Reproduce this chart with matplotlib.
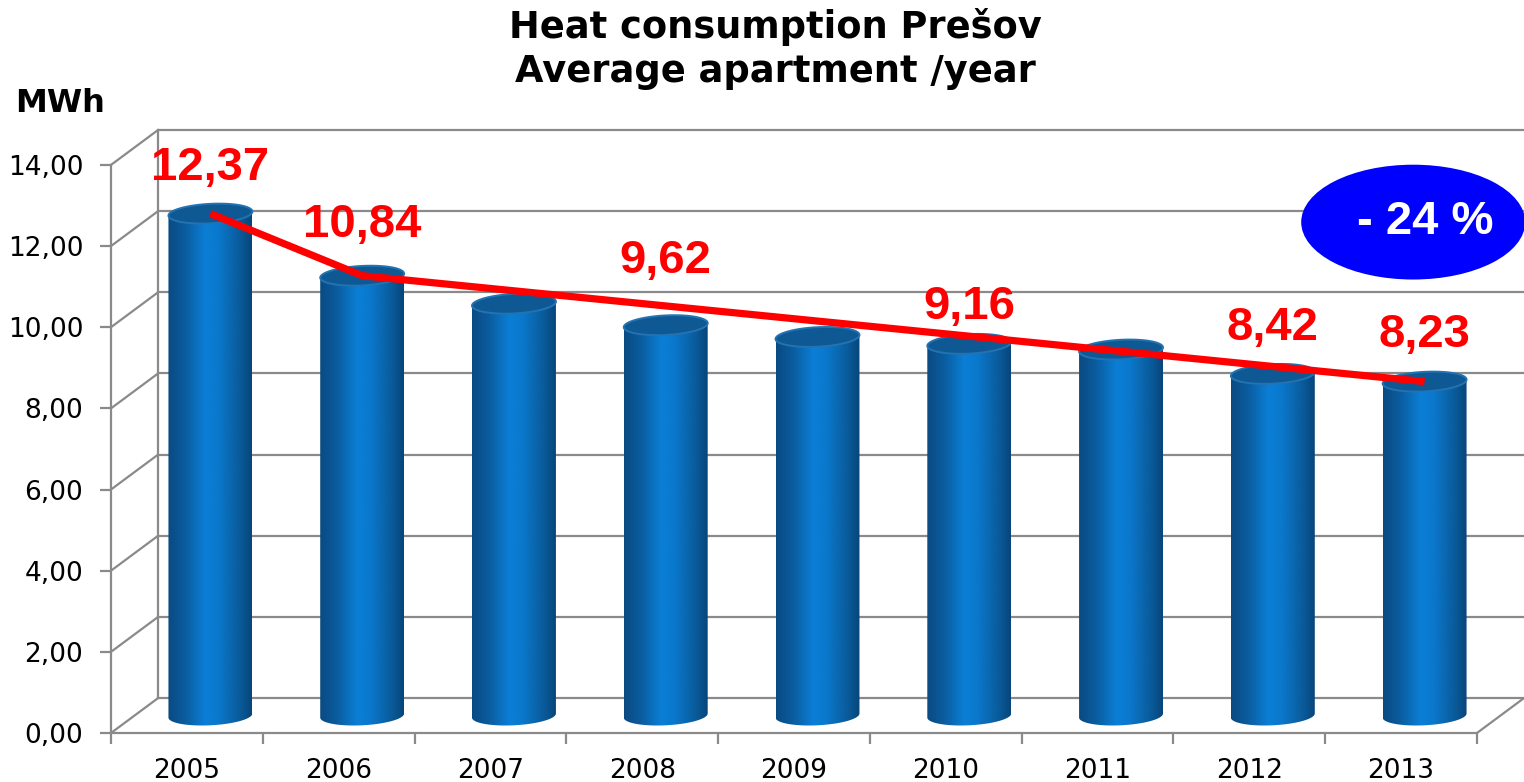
import numpy as np
import matplotlib
matplotlib.use("Agg")
import matplotlib.pyplot as plt
from matplotlib.patches import Ellipse, PathPatch, Polygon
from matplotlib.path import Path
from matplotlib.colors import LinearSegmentedColormap

# datos
years = ['2005', '2006', '2007', '2008', '2009', '2010', '2011', '2012', '2013']
values = [12.37, 10.84, 10.15, 9.62, 9.33, 9.16, 9.02, 8.42, 8.23]
labeled = [0, 1, 3, 5, 7, 8]           # barras con etiqueta roja
label_lift = [1.55, 1.68, 2.0, 1.35, 1.55, 1.57]
trend_idx = [0, 1, 8]                  # linea roja
yticks = [0, 2, 4, 6, 8, 10, 12, 14]
badge_text = '- 24 %'

# efecto 3D (profundidad en unidades de datos)
dx, dy = 0.31, 0.86
bar_w = 0.553
ell_h = 0.48
shear = 0.05
grid_col = '#8a8a8a'

fig = plt.figure(figsize=(15.24, 7.82), dpi=100)
ax = fig.add_axes([111 / 1524, 49 / 782, 1413 / 1524, 603 / 782])
ax.set_xlim(-0.5, 8.5 + dx)
ax.set_ylim(0, 14 + dy)

# ejes
for s in ['top', 'right']:
    ax.spines[s].set_visible(False)
ax.spines['left'].set_bounds(0, 14)
ax.spines['bottom'].set_bounds(-0.5, 8.5)
for s in ['left', 'bottom']:
    ax.spines[s].set_color(grid_col)
    ax.spines[s].set_linewidth(1.6)

ax.set_yticks(yticks)
ax.set_yticklabels([f'{v:.2f}'.replace('.', ',') for v in yticks], fontsize=19)
ax.set_xticks(np.arange(-0.5, 9, 1))
ax.set_xticklabels([])
ax.set_xticks(np.arange(len(years)), minor=True)
ax.set_xticklabels(years, minor=True, fontsize=19)
ax.tick_params(axis='y', length=8, width=1.6, color=grid_col, pad=12)
ax.tick_params(axis='x', which='major', length=8, width=1.6, color=grid_col)
ax.tick_params(axis='x', which='minor', length=0, pad=18)

# rejilla en pared trasera y lateral
for v in yticks:
    ax.plot([-0.5 + dx, 8.5 + dx], [v + dy, v + dy], color=grid_col, lw=1.6, zorder=1, clip_on=False)
    ax.plot([-0.5, -0.5 + dx], [v, v + dy], color=grid_col, lw=1.6, zorder=1, clip_on=False)
ax.plot([-0.5 + dx, -0.5 + dx], [dy, 14 + dy], color=grid_col, lw=1.6, zorder=1)
ax.plot([8.5, 8.5 + dx], [0, dy], color=grid_col, lw=1.6, zorder=1, clip_on=False)

# cilindros
cmap = LinearSegmentedColormap.from_list('cyl', [
    (0.0, '#0a4a82'), (0.2, '#0b5c9e'), (0.45, '#0a7fd6'),
    (0.6, '#0a78cc'), (0.85, '#0a5c9c'), (1.0, '#07457a')])
grad = np.linspace(0, 1, 256).reshape(1, -1)
base = dy / 2
w = bar_w / 2
t_low = np.linspace(np.pi, 2 * np.pi, 60)
t_all = np.linspace(0, 2 * np.pi, 120)
for i, v in enumerate(values):
    cx = i + dx / 2
    top = v + dy / 2
    arc = np.column_stack([cx + w * np.cos(t_low),
                           base + ell_h / 2 * np.sin(t_low) + shear * np.cos(t_low)])
    verts = np.vstack([[cx - w, top - shear], arc, [cx + w, top + shear], [cx - w, top - shear]])
    clip = PathPatch(Path(verts), transform=ax.transData)
    im = ax.imshow(grad, cmap=cmap, aspect='auto', interpolation='bicubic',
                   extent=(cx - w, cx + w, base - ell_h / 2 - shear, top + shear), zorder=3)
    im.set_clip_path(clip)
    cap = np.column_stack([cx + w * np.cos(t_all),
                           top + ell_h / 2 * np.sin(t_all) + shear * np.cos(t_all)])
    ax.add_patch(Polygon(cap, closed=True, facecolor='#0e5894',
                         edgecolor='#2372b2', lw=1.4, zorder=4))

# linea roja
tx = [i + dx / 2 for i in trend_idx]
ty = [values[i] + dy / 2 for i in trend_idx]
ax.plot(tx, ty, color='#ff0000', lw=5.2, zorder=6, solid_capstyle='butt')

# etiquetas
for i, lift in zip(labeled, label_lift):
    ax.text(i + dx / 2, values[i] + lift, f'{values[i]:.2f}'.replace('.', ','),
            ha='center', va='center', color='#ff0000', fontsize=34,
            fontweight='bold', family='Liberation Sans', zorder=7)

# elipse -24 %
ax.add_patch(Ellipse((8.08, 12.59), 1.476, 2.83, facecolor='#0000ff',
                     edgecolor='none', zorder=6, clip_on=False))
ax.text(8.08 + 0.08, 12.59, badge_text, ha='center', va='center', color='white',
        fontsize=34, fontweight='bold', family='Liberation Sans', zorder=7)

# titulos
fig.text(775 / 1524, 1 - 27 / 782, 'Heat consumption Prešov', ha='center', va='center',
         fontsize=26.5, fontweight='bold')
fig.text(775 / 1524, 1 - 72 / 782, 'Average apartment /year', ha='center', va='center',
         fontsize=26.5, fontweight='bold')
fig.text(15 / 1524, 1 - 103 / 782, 'MWh', ha='left', va='center', fontsize=23, fontweight='bold')

fig.savefig('out.png', dpi=100)
